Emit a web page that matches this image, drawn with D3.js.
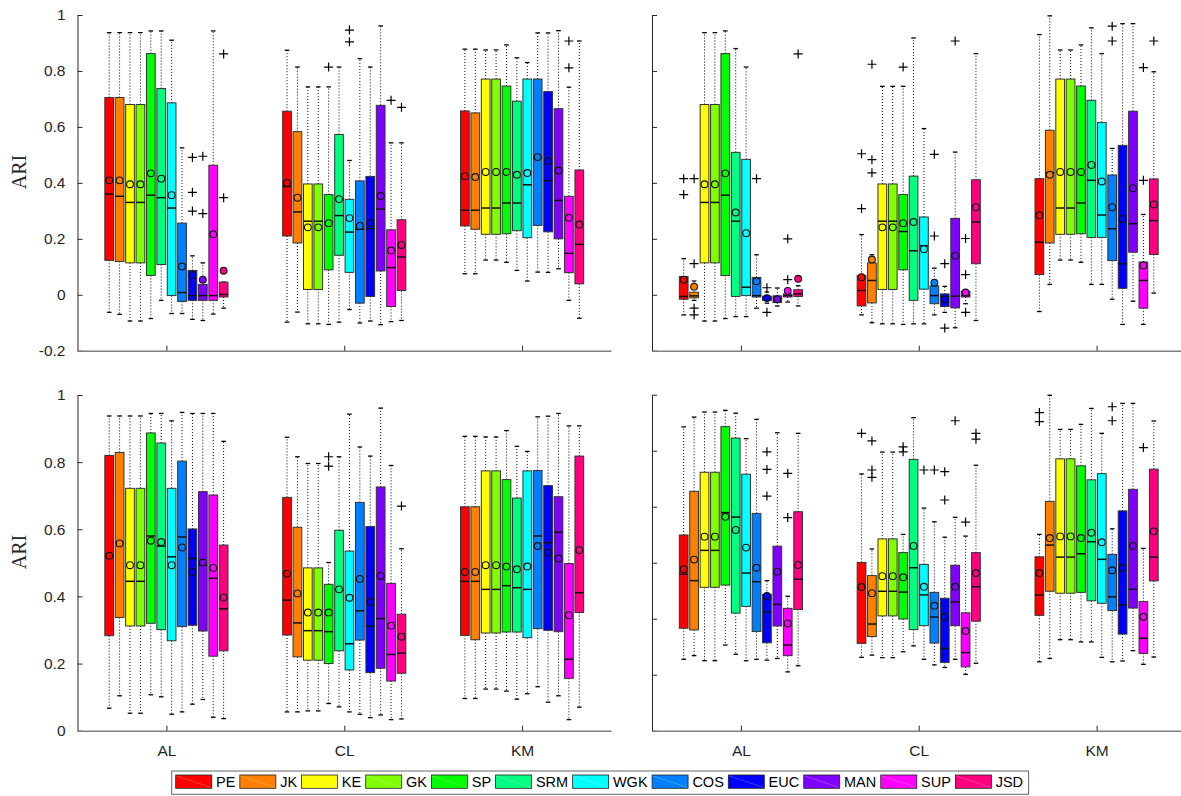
<!DOCTYPE html>
<html><head><meta charset="utf-8">
<script src="https://cdn.jsdelivr.net/npm/d3@7"></script>
<style>body{margin:0;background:#fff} svg{display:block}</style>
</head><body><svg id="c" width="1181" height="796"></svg>
<script>
const methods = ["PE","JK","KE","GK","SP","SRM","WGK","COS","EUC","MAN","SUP","JSD"];
const colors = ["#ff0000","#ff8000","#ffff00","#80ff00","#00ff00","#00ff80","#00ffff","#0080ff","#0000ff","#8000ff","#ff00ff","#ff0080"];
const groups = ["AL","CL","KM"];
const yTicksA = [-0.2,0,0.2,0.4,0.6,0.8,1];
const yTicksB = [0,0.2,0.4,0.6,0.8,1];

// rows per method: [whiskerLow, q1, median, q3, whiskerHigh, mean]
const TL_AL = [[-0.063,0.123,0.36,0.705,0.937,0.409],[-0.07,0.119,0.352,0.705,0.937,0.409],[-0.094,0.114,0.33,0.68,0.937,0.395],[-0.094,0.114,0.33,0.68,0.937,0.395],[-0.085,0.069,0.356,0.862,0.943,0.434],[-0.02,0.108,0.347,0.737,0.943,0.415],[-0.067,-0.003,0.31,0.686,0.91,0.356],[-0.067,-0.024,0.008,0.256,0.525,0.101],[-0.088,-0.02,-0.003,0.087,0.139,0.071],[-0.092,-0.02,-0.003,0.037,0.114,0.054],[-0.069,-0.02,-0.003,0.463,0.943,0.216],[-0.048,-0.008,0.001,0.045,0.045,0.086]];
const TL_CL = [[-0.098,0.21,0.387,0.656,0.874,0.4],[-0.062,0.185,0.296,0.583,0.814,0.347],[-0.104,0.019,0.263,0.396,0.743,0.241],[-0.104,0.019,0.263,0.396,0.743,0.241],[-0.106,0.089,0.26,0.358,0.743,0.256],[-0.098,0.141,0.283,0.573,0.814,0.342],[-0.053,0.08,0.224,0.341,0.48,0.274],[-0.101,-0.03,0.234,0.407,0.844,0.246],[-0.094,-0.006,0.236,0.423,0.814,0.256],[-0.107,0.085,0.306,0.677,0.961,0.353],[-0.096,-0.042,0.097,0.232,0.543,0.158],[-0.092,0.015,0.135,0.268,0.543,0.178]];
const TL_KM = [[0.075,0.246,0.302,0.657,0.878,0.424],[0.075,0.234,0.302,0.65,0.878,0.421],[0.124,0.216,0.31,0.771,0.875,0.439],[0.124,0.216,0.31,0.771,0.875,0.439],[0.116,0.218,0.328,0.746,0.893,0.439],[0.087,0.229,0.328,0.692,0.847,0.429],[0.049,0.204,0.393,0.771,0.83,0.435],[0.081,0.248,0.49,0.771,0.936,0.492],[0.08,0.225,0.408,0.726,0.936,0.478],[0.093,0.2,0.337,0.665,0.944,0.444],[-0.02,0.079,0.148,0.352,0.742,0.275],[-0.084,0.039,0.18,0.446,0.907,0.251]];
const TL_out = [["AL","EUC",0.491],["AL","EUC",0.366],["AL","EUC",0.299],["AL","MAN",0.495],["AL","MAN",0.29],["AL","JSD",0.861],["AL","JSD",0.347],["CL","SP",0.814],["CL","WGK",0.946],["CL","WGK",0.904],["CL","SUP",0.695],["CL","JSD",0.67],["KM","SUP",0.907],["KM","SUP",0.811]];

const TR_AL = [[-0.072,-0.016,-0.006,0.065,0.129,0.054],[-0.02,-0.011,-0.004,0.009,0.049,0.029],[-0.094,0.114,0.33,0.68,0.937,0.395],[-0.094,0.114,0.33,0.68,0.937,0.395],[-0.085,0.069,0.356,0.862,0.943,0.434],[-0.078,-0.006,0.263,0.509,0.88,0.294],[-0.078,-0.003,0.027,0.484,0.814,0.22],[-0.048,-0.008,-0.003,0.062,0.143,0.048],[-0.03,-0.02,-0.015,-0.005,0.01,-0.012],[-0.04,-0.028,-0.015,-0.004,0.024,-0.016],[-0.026,-0.008,-0.003,0.003,0.02,0.014],[-0.04,-0.006,0.003,0.018,0.032,0.057]];
const TR_CL = [[-0.072,-0.04,0.015,0.069,0.215,0.063],[-0.1,-0.029,0.051,0.114,0.143,0.126],[-0.104,0.019,0.263,0.396,0.745,0.241],[-0.104,0.019,0.263,0.396,0.745,0.241],[-0.106,0.089,0.226,0.358,0.745,0.256],[-0.104,-0.02,0.157,0.424,0.918,0.26],[-0.104,0.02,0.175,0.278,0.594,0.163],[-0.072,-0.032,-0.003,0.032,0.095,0.043],[-0.063,-0.042,-0.008,0.003,0.03,-0.016],[-0.118,-0.047,-0.005,0.273,0.51,0.139],[-0.032,-0.008,-0.003,0.012,0.012,0.008],[-0.092,0.111,0.26,0.411,0.862,0.313]];
const TR_KM = [[-0.06,0.072,0.188,0.415,0.93,0.284],[0.037,0.185,0.436,0.588,0.997,0.429],[0.124,0.216,0.31,0.771,0.875,0.439],[0.124,0.216,0.31,0.771,0.875,0.439],[0.116,0.218,0.328,0.746,0.893,0.439],[0.037,0.205,0.409,0.695,0.954,0.464],[0.037,0.205,0.285,0.616,0.862,0.405],[-0.016,0.122,0.236,0.428,0.523,0.313],[-0.106,0.023,0.111,0.534,0.969,0.271],[-0.023,0.152,0.254,0.656,0.969,0.381],[-0.106,-0.048,0.051,0.117,0.287,0.105],[0.006,0.144,0.265,0.414,0.797,0.323]];
const TR_out = [["AL","PE",0.415],["AL","PE",0.358],["AL","JK",0.415],["AL","JK",0.111],["AL","JK",-0.048],["AL","JK",-0.072],["AL","COS",0.415],["AL","EUC",0.025],["AL","EUC",-0.063],["AL","SUP",0.2],["AL","SUP",0.054],["AL","JSD",0.861],["CL","PE",0.504],["CL","PE",0.308],["CL","JK",0.824],["CL","JK",0.483],["CL","JK",0.436],["CL","SP",0.814],["CL","COS",0.502],["CL","COS",0.21],["CL","EUC",0.111],["CL","EUC",-0.119],["CL","MAN",0.907],["CL","SUP",0.201],["CL","SUP",0.072],["CL","SUP",-0.063],["KM","COS",0.96],["KM","COS",0.907],["KM","SUP",0.812],["KM","SUP",0.409],["KM","JSD",0.907]];

const BL_AL = [[0.067,0.283,0.52,0.82,0.9375,0.521],[0.104,0.337,0.56,0.829,0.9375,0.558],[0.052,0.312,0.445,0.722,0.9375,0.493],[0.052,0.312,0.445,0.722,0.9375,0.493],[0.107,0.32,0.58,0.887,0.945,0.566],[0.101,0.301,0.55,0.857,0.945,0.562],[0.049,0.268,0.518,0.722,0.923,0.493],[0.056,0.31,0.577,0.803,0.948,0.546],[0.079,0.314,0.513,0.601,0.945,0.473],[0.093,0.297,0.493,0.712,0.945,0.501],[0.04,0.222,0.454,0.702,0.945,0.485],[0.036,0.238,0.363,0.553,0.862,0.397]];
const BL_CL = [[0.056,0.285,0.389,0.695,0.874,0.468],[0.056,0.22,0.321,0.606,0.816,0.409],[0.059,0.21,0.298,0.485,0.796,0.352],[0.059,0.21,0.298,0.485,0.796,0.352],[0.081,0.2,0.295,0.436,0.501,0.352],[0.071,0.238,0.42,0.597,0.816,0.421],[0.056,0.181,0.259,0.535,0.943,0.396],[0.049,0.27,0.357,0.68,0.845,0.452],[0.039,0.173,0.311,0.608,0.818,0.384],[0.047,0.186,0.334,0.726,0.961,0.461],[0.033,0.148,0.227,0.439,0.79,0.313],[0.035,0.171,0.231,0.347,0.542,0.28]];
const BL_KM = [[0.096,0.284,0.445,0.667,0.877,0.473],[0.096,0.271,0.445,0.667,0.877,0.473],[0.124,0.291,0.421,0.774,0.875,0.493],[0.124,0.291,0.421,0.774,0.875,0.493],[0.118,0.294,0.432,0.748,0.894,0.489],[0.094,0.294,0.426,0.693,0.847,0.481],[0.11,0.277,0.421,0.774,0.832,0.489],[0.131,0.304,0.58,0.775,0.935,0.55],[0.085,0.299,0.56,0.73,0.937,0.53],[0.104,0.295,0.591,0.697,0.945,0.513],[0.033,0.156,0.213,0.498,0.908,0.344],[0.07,0.352,0.411,0.818,0.908,0.538]];
const BL_out = [["CL","SP",0.816],["CL","SP",0.788],["CL","JSD",0.669]];

const BR_AL = [[0.055,0.166,0.359,0.499,0.885,0.377],[0.068,0.16,0.336,0.655,0.92,0.411],[0.05,0.312,0.444,0.723,0.938,0.493],[0.05,0.312,0.444,0.723,0.938,0.493],[0.106,0.32,0.579,0.886,0.944,0.564],[0.073,0.22,0.563,0.845,0.934,0.517],[0.05,0.244,0.363,0.716,0.843,0.454],[0.055,0.154,0.332,0.576,0.912,0.382],[0.052,0.114,0.224,0.287,0.336,0.281],[0.058,0.174,0.251,0.459,0.864,0.368],[0.01,0.068,0.106,0.237,0.28,0.183],[0.032,0.233,0.341,0.582,0.862,0.392]];
const BR_CL = [[0.062,0.112,0.31,0.401,0.717,0.313],[0.07,0.136,0.181,0.354,0.449,0.291],[0.061,0.21,0.298,0.485,0.795,0.352],[0.061,0.21,0.298,0.485,0.795,0.352],[0.082,0.199,0.295,0.436,0.501,0.348],[0.103,0.161,0.382,0.769,0.918,0.46],[0.055,0.175,0.285,0.394,0.595,0.314],[0.035,0.113,0.206,0.294,0.546,0.246],[0.026,0.044,0.094,0.273,0.491,0.207],[0.055,0.175,0.26,0.391,0.562,0.314],[0.001,0.028,0.079,0.221,0.495,0.156],[0.041,0.191,0.314,0.436,0.748,0.363]];
const BR_KM = [[0.046,0.212,0.285,0.421,0.501,0.363],[0.058,0.298,0.463,0.619,0.998,0.488],[0.125,0.291,0.42,0.771,0.876,0.494],[0.125,0.291,0.42,0.771,0.876,0.494],[0.117,0.294,0.432,0.746,0.894,0.488],[0.117,0.264,0.475,0.696,0.951,0.507],[0.062,0.255,0.412,0.718,0.862,0.473],[0.046,0.229,0.278,0.43,0.521,0.373],[0.049,0.145,0.249,0.585,0.969,0.381],[0.086,0.238,0.305,0.662,0.969,0.46],[0.037,0.076,0.13,0.261,0.451,0.207],[0.063,0.335,0.42,0.734,0.906,0.512]];
const BR_out = [["AL","EUC",0.796],["AL","EUC",0.733],["AL","EUC",0.638],["AL","SUP",0.719],["AL","SUP",0.561],["CL","PE",0.862],["CL","JK",0.835],["CL","JK",0.731],["CL","JK",0.705],["CL","SP",0.814],["CL","SP",0.796],["CL","WGK",0.731],["CL","COS",0.731],["CL","EUC",0.725],["CL","EUC",0.624],["CL","MAN",0.907],["CL","SUP",0.545],["CL","JSD",0.862],["CL","JSD",0.841],["KM","PE",0.936],["KM","PE",0.904],["KM","COS",0.957],["KM","COS",0.907],["KM","SUP",0.811]];

const svg = d3.select("#c");
const FONT = "'Liberation Sans', Arial, Helvetica, sans-serif";

const panels = [
  {stats:[TL_AL,TL_CL,TL_KM], out:TL_out, x0:77.5, yTop:15, yBot:350.7, dom:[-0.2,1], ticks:yTicksA, ylab:true, xlab:false, labY:172},
  {stats:[TR_AL,TR_CL,TR_KM], out:TR_out, x0:652, yTop:15, yBot:350.7, dom:[-0.2,1], ticks:yTicksA, ylab:false, xlab:false},
  {stats:[BL_AL,BL_CL,BL_KM], out:BL_out, x0:77.5, yTop:395, yBot:730.7, dom:[0,1], ticks:yTicksB, ylab:true, xlab:true, labY:552},
  {stats:[BR_AL,BR_CL,BR_KM], out:BR_out, x0:652, yTop:394.7, yBot:730.7, dom:[-0.2,1], ticks:yTicksA, ylab:false, xlab:true}
];

const inner = d3.scalePoint().domain(methods).range([-0.32175, 0.32175]);
const boxW = 0.049;

panels.forEach(p => {
  const x = d3.scaleLinear().domain([0.5, 3.5]).range([p.x0, p.x0 + 533.5]);
  const gx = d3.scalePoint().domain(groups).range([1, 3]);
  const y = d3.scaleLinear().domain(p.dom).range([p.yBot, p.yTop]);
  const g = svg.append("g");
  const halfPx = (x(boxW) - x(0)) / 2;

  // axes
  const ya = d3.axisLeft(y).tickValues(p.ticks).tickSizeInner(-5).tickSizeOuter(0).tickPadding(12)
    .tickFormat(p.ylab ? (d => String(+d.toFixed(1))) : () => "");
  const yg = g.append("g").attr("transform", `translate(${p.x0},0)`).call(ya);
  yg.select(".domain").attr("stroke", "#262626").attr("stroke-width", 1);
  yg.selectAll(".tick line").attr("stroke", "#262626");
  yg.selectAll("text").attr("font-family", FONT).attr("font-size", "15.5px").attr("fill", "#262626");

  const xa = d3.axisBottom(x).tickValues(groups.map(d => gx(d))).tickSizeInner(-5).tickSizeOuter(0).tickPadding(14)
    .tickFormat(p.xlab ? ((d, i) => groups[i]) : () => "");
  const xg = g.append("g").attr("transform", `translate(0,${p.yBot})`).call(xa);
  xg.select(".domain").attr("stroke", "#808080").attr("stroke-width", 1.5);
  xg.selectAll(".tick line").attr("stroke", "#262626");
  xg.selectAll("text").attr("font-family", FONT).attr("font-size", "15.5px").attr("fill", "#262626");

  if (p.ylab) {
    g.append("text").attr("transform", `translate(26,${p.labY}) rotate(-90)`)
      .attr("text-anchor", "middle").attr("font-family", "'Liberation Serif', 'Times New Roman', serif")
      .attr("font-size", "20px").attr("fill", "#262626").text("ARI");
  }

  groups.forEach((grp, gi) => {
    const rows = p.stats[gi];
    rows.forEach((r, mi) => {
      const m = methods[mi];
      const cx = x(gx(grp) + inner(m));
      const [lo, q1, med, q3, hi, mean] = r;
      const bg = g.append("g");
      // whiskers
      bg.append("line").attr("x1", cx).attr("x2", cx).attr("y1", y(q3)).attr("y2", y(hi))
        .attr("stroke", "#000").attr("stroke-width", 1).attr("stroke-dasharray", "1,2");
      bg.append("line").attr("x1", cx).attr("x2", cx).attr("y1", y(q1)).attr("y2", y(lo))
        .attr("stroke", "#000").attr("stroke-width", 1).attr("stroke-dasharray", "1,2");
      [lo, hi].forEach(v => bg.append("line").attr("x1", cx - 2.3).attr("x2", cx + 2.3)
        .attr("y1", y(v)).attr("y2", y(v)).attr("stroke", "#000").attr("stroke-width", 1.3));
      // box
      bg.append("rect").attr("x", cx - halfPx).attr("width", 2 * halfPx)
        .attr("y", y(q3)).attr("height", Math.max(0.5, y(q1) - y(q3)))
        .attr("fill", colors[mi]).attr("stroke", "#333").attr("stroke-width", 1);
      bg.append("line").attr("x1", cx - halfPx).attr("x2", cx + halfPx).attr("y1", y(med)).attr("y2", y(med))
        .attr("stroke", "#111").attr("stroke-width", 1.5);
      bg.append("circle").attr("cx", cx).attr("cy", y(mean)).attr("r", 3.4)
        .attr("fill", colors[mi]).attr("stroke", "#111").attr("stroke-width", 1.1);
    });
  });
  // outliers
  p.out.forEach(([grp, m, v]) => {
    const cx = x(gx(grp) + inner(m)), cy = y(v);
    g.append("path").attr("d", `M${cx - 4.5},${cy}H${cx + 4.5}M${cx},${cy - 4.5}V${cy + 4.5}`)
      .attr("stroke", "#000").attr("stroke-width", 1.2).attr("fill", "none");
  });
});

// legend
const lg = svg.append("g");
const lgX0 = 171.7, lgY0 = 771, lgH = 23.3;
let cx = lgX0 + 4;
const items = [];
methods.forEach((m, i) => {
  const it = lg.append("g");
  it.append("rect").attr("x", cx).attr("y", lgY0 + 4).attr("width", 36).attr("height", 13.3)
    .attr("fill", colors[i]).attr("stroke", "#222").attr("stroke-width", 0.8);
  it.append("line").attr("x1", cx + 1).attr("y1", lgY0 + 5).attr("x2", cx + 35).attr("y2", lgY0 + 16.3)
    .attr("stroke", "#fff").attr("stroke-opacity", 0.35).attr("stroke-width", 0.7);
  const t = it.append("text").attr("x", cx + 40.3).attr("y", lgY0 + 16.3)
    .attr("font-family", FONT).attr("font-size", "14.5px").attr("fill", "#000").text(m);
  cx = cx + 40.3 + t.node().getComputedTextLength() + 4.5;
});
lg.insert("rect", ":first-child").attr("x", lgX0).attr("y", lgY0).attr("width", cx - lgX0 + 1).attr("height", lgH)
  .attr("fill", "#fff").attr("stroke", "#666").attr("stroke-width", 1);
</script></body></html>
